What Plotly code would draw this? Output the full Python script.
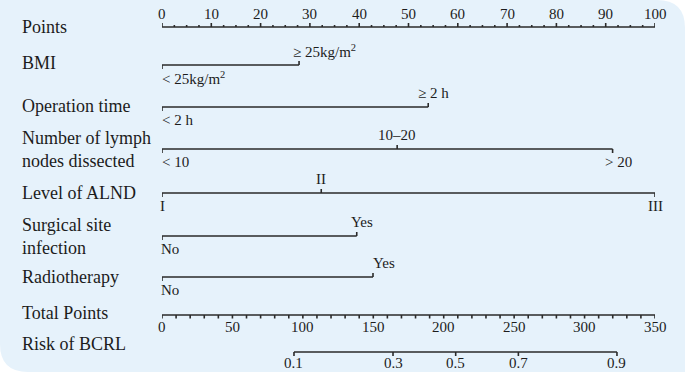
import numpy as np
import plotly.graph_objects as go

# ---------------- data ----------------
points_ticks = [0, 10, 20, 30, 40, 50, 60, 70, 80, 90, 100]
total_ticks = [0, 50, 100, 150, 200, 250, 300, 350]
risk_ticks = [0.1, 0.3, 0.5, 0.7, 0.9]
risk_total_points = [93.7, 164.0, 208.5, 253.0, 323.0]

bmi_levels = ["< 25kg/m<sup>2</sup>", "≥ 25kg/m<sup>2</sup>"]
bmi_points = [0, 27.8]
optime_levels = ["< 2 h", "≥ 2 h"]
optime_points = [0, 54.0]
lymph_levels = ["< 10", "10–20", "> 20"]
lymph_points = [0, 47.7, 91.4]
alnd_levels = ["I", "II", "III"]
alnd_points = [0, 32.3, 100]
ssi_levels = ["No", "Yes"]
ssi_points = [0, 39.5]
radio_levels = ["No", "Yes"]
radio_points = [0, 42.8]

row_names = ["Points", "BMI", "Operation time", "Number of lymph<br>nodes dissected",
             "Level of ALND", "Surgical site<br>infection", "Radiotherapy",
             "Total Points", "Risk of BCRL"]

# ---------------- layout / style ----------------
W, H = 685, 372
X0, X1 = 162, 655
FONT = "Liberation Serif"
LC = "#2a2a2a"
TC = "#1c1c1c"
BG = "#E6F2FB"
VS = 15  # value label font size
RS = 18  # row label font size
row_y = {"Points": 27, "BMI": 65, "Operation time": 107, "Lymph": 149, "ALND": 193,
         "SSI": 236, "Radio": 277, "Total": 315, "Risk": 352}
label_y = [27, 63, 106, 149, 193, 236, 277, 313, 344]

fig = go.Figure()
ann = []


def seg_trace(xs, ys, xaxis="x"):
    fig.add_trace(go.Scatter(x=xs, y=ys, mode="lines", xaxis=xaxis, yaxis="y",
                             line=dict(color=LC, width=1.6), hoverinfo="skip",
                             showlegend=False, cliponaxis=False))


def text(x, y, t, xanchor="center", xshift=0, xref="x", size=VS):
    ann.append(dict(x=x, y=y, xref=xref, yref="y", text=t, showarrow=False,
                    xanchor=xanchor, yanchor="middle", xshift=xshift,
                    font=dict(family=FONT, size=size, color=TC)))


# Points axis
py = row_y["Points"]
seg_trace([0, 100], [py, py])
xs, ys = [], []
for v in np.arange(0, 100.01, 2.5):
    major = abs(v % 10) < 1e-9
    xs += [v, v, None]
    ys += [py, py - (4 if major else 2), None]
seg_trace(xs, ys)
for v in points_ticks:
    text(v, py - 13, str(v))

# categorical rows: (key, levels, points, placements[(above?, anchor, shift)])
cat_rows = [
    ("BMI", bmi_levels, bmi_points, [(False, "left", -2), (True, "left", -8)]),
    ("Operation time", optime_levels, optime_points, [(False, "left", -2), (True, "left", -12)]),
    ("Lymph", lymph_levels, lymph_points, [(False, "left", -2), (True, "center", 0), (False, "left", -10)]),
    ("ALND", alnd_levels, alnd_points, [(False, "center", 0), (True, "center", 0), (False, "center", 0)]),
    ("SSI", ssi_levels, ssi_points, [(False, "left", -3), (True, "left", -8)]),
    ("Radio", radio_levels, radio_points, [(False, "left", -3), (True, "left", -2)]),
]
for key, levels, pts, place in cat_rows:
    y = row_y[key]
    seg_trace([min(pts), max(pts)], [y, y])
    xs, ys = [], []
    for p, lev, (above, anc, sh) in zip(pts, levels, place):
        xs += [p, p, None]
        ys += [y, y - 4 if above else y + 4, None]
        text(p, y - 14 if above else y + 13, lev, xanchor=anc, xshift=sh)
    seg_trace(xs, ys)

# Total points axis
ty = row_y["Total"]
seg_trace([0, 350], [ty, ty], xaxis="x2")
xs, ys = [], []
for v in range(0, 351, 10):
    xs += [v, v, None]
    ys += [ty, ty + 3.5, None]
seg_trace(xs, ys, xaxis="x2")
for v in total_ticks:
    text(v, ty + 12, str(v), xref="x2")

# Risk axis
ry = row_y["Risk"]
seg_trace([min(risk_total_points), max(risk_total_points)], [ry, ry], xaxis="x2")
xs, ys = [], []
for p in risk_total_points:
    xs += [p, p, None]
    ys += [ry, ry + 4, None]
seg_trace(xs, ys, xaxis="x2")
for r, p in zip(risk_ticks, risk_total_points):
    text(p, ry + 11, str(r), xref="x2")

# Row labels
for name, yy in zip(row_names, label_y):
    ann.append(dict(x=20 / W, y=yy, xref="paper", yref="y", text=name, showarrow=False,
                    xanchor="left", yanchor="middle", align="left",
                    font=dict(family=FONT, size=RS, color=TC)))

# Background rounded panel
rx, ryy = 28 / W, 28 / H
path = (f"M 0,1 L {1 - rx},1 Q 1,1 1,{1 - ryy} L 1,0 L {rx},0 Q 0,0 0,{ryy} Z")
shapes = [dict(type="path", path=path, xref="paper", yref="paper",
               fillcolor=BG, line=dict(width=0), layer="below")]

fig.update_layout(
    width=W, height=H, margin=dict(l=0, r=0, t=0, b=0),
    paper_bgcolor="white", plot_bgcolor="rgba(0,0,0,0)",
    xaxis=dict(domain=[X0 / W, X1 / W], range=[0, 100], visible=False, fixedrange=True),
    xaxis2=dict(domain=[X0 / W, X1 / W], range=[0, 350], visible=False,
                overlaying="x", anchor="y", fixedrange=True),
    yaxis=dict(domain=[0, 1], range=[H, 0], visible=False, fixedrange=True),
    annotations=ann, shapes=shapes, showlegend=False,
)

fig.write_html("out.html", config={"displayModeBar": False},
               post_script="document.body.style.margin='0';document.body.style.padding='0';"
                           "document.body.style.overflow='hidden';")
